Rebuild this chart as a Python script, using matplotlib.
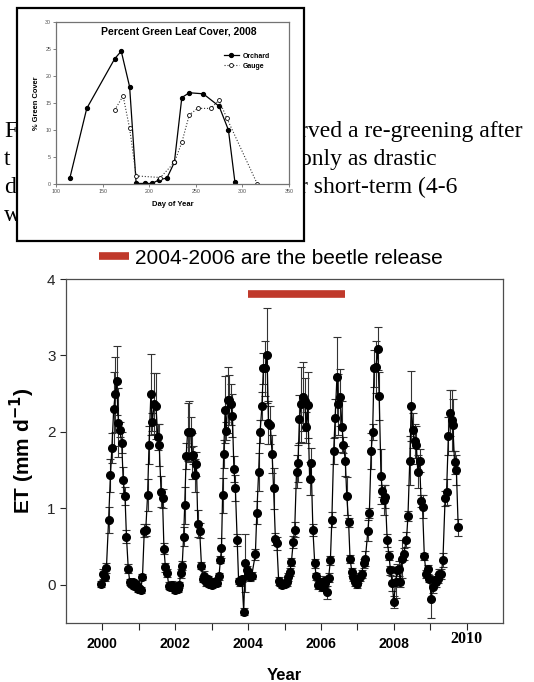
import matplotlib
matplotlib.use('Agg')
import matplotlib.pyplot as plt
from matplotlib.lines import Line2D
from matplotlib.patches import Rectangle

plt.rcParams['font.family'] = ['Liberation Sans', 'DejaVu Sans']

# inset: percent green leaf cover, 2008
orchard_doy = [115, 133, 163, 170, 179, 186, 195, 203, 211, 219, 227, 235, 243, 258, 275, 285, 292]
orchard_cover = [1.2, 14.0, 23.2, 24.6, 18.0, 0.1, 0.1, 0.1, 0.8, 1.1, 4.0, 16.0, 16.9, 16.7, 14.4, 10.0, 0.3]
gauge_doy = [163, 172, 179, 186, 212, 227, 235, 243, 252, 266, 275, 283, 316]
gauge_cover = [13.7, 16.3, 10.3, 1.5, 1.2, 4.0, 7.7, 12.8, 14.0, 14.0, 15.5, 12.3, 0.0]

# main chart: ET time series (decimal year, mm/d, error)
et_year = [
    1999.97, 2000.02, 2000.06, 2000.11, 2000.17, 2000.22, 2000.26, 2000.31, 2000.35, 2000.39,
    2000.44, 2000.48, 2000.53, 2000.57, 2000.62, 2000.66, 2000.71, 2000.75, 2000.79, 2000.83,
    2000.88, 2000.92, 2000.97, 2001.01, 2001.05, 2001.10,
    2001.15, 2001.19, 2001.24, 2001.28, 2001.33, 2001.37, 2001.42, 2001.47, 2001.52, 2001.56,
    2001.61, 2001.65, 2001.69, 2001.73, 2001.78, 2001.82, 2001.86, 2001.91, 2001.95, 2001.99,
    2002.03, 2002.07, 2002.11, 2002.15, 2002.19,
    2002.23, 2002.26, 2002.30, 2002.34, 2002.38, 2002.42, 2002.46, 2002.50, 2002.54, 2002.58,
    2002.62, 2002.67, 2002.72, 2002.76, 2002.80, 2002.85, 2002.89, 2002.93, 2002.98, 2003.02,
    2003.07, 2003.11, 2003.15, 2003.20,
    2003.24, 2003.27, 2003.30, 2003.33, 2003.37, 2003.40, 2003.44, 2003.48, 2003.52, 2003.57,
    2003.61, 2003.65, 2003.70, 2003.74, 2003.79, 2003.83, 2003.88, 2003.92, 2003.97, 2004.01,
    2004.06, 2004.10,
    2004.20, 2004.24, 2004.29, 2004.33, 2004.38, 2004.42, 2004.47, 2004.52, 2004.56, 2004.61,
    2004.66, 2004.70, 2004.75, 2004.79, 2004.84, 2004.88, 2004.93, 2004.97, 2005.01, 2005.06,
    2005.10, 2005.15,
    2005.19, 2005.24, 2005.28, 2005.33, 2005.37, 2005.41, 2005.46, 2005.50, 2005.55, 2005.60,
    2005.64, 2005.69, 2005.73, 2005.78, 2005.83, 2005.87, 2005.92, 2005.96, 2006.00, 2006.04,
    2006.08, 2006.12, 2006.17, 2006.21,
    2006.26, 2006.30, 2006.35, 2006.39, 2006.44, 2006.48, 2006.53, 2006.58, 2006.62, 2006.67,
    2006.71, 2006.76, 2006.80, 2006.85, 2006.89, 2006.94, 2006.98, 2007.03, 2007.07, 2007.12,
    2007.17, 2007.22,
    2007.29, 2007.33, 2007.38, 2007.42, 2007.46, 2007.51, 2007.56, 2007.60, 2007.65, 2007.69,
    2007.73, 2007.77, 2007.82, 2007.87, 2007.91, 2007.96, 2008.00, 2008.05, 2008.09, 2008.14,
    2008.18, 2008.23, 2008.27,
    2008.35, 2008.39, 2008.44, 2008.48, 2008.53, 2008.57, 2008.62, 2008.66, 2008.71, 2008.75,
    2008.79, 2008.84, 2008.89, 2008.93, 2008.98, 2009.03, 2009.07, 2009.12, 2009.16, 2009.21,
    2009.25, 2009.30, 2009.35,
    2009.41, 2009.45, 2009.50, 2009.55, 2009.59, 2009.62, 2009.67, 2009.72, 2009.77,
]
et_value = [
    0.01, 0.14, 0.10, 0.22, 0.85, 1.43, 1.79, 2.30, 2.49, 2.67,
    2.12, 2.03, 1.86, 1.37, 1.16, 0.63, 0.21, 0.04, 0.01, 0.03,
    -0.02, 0.01, -0.05, -0.04, -0.07, 0.10,
    0.71, 0.72, 1.17, 1.83, 2.49, 2.13, 2.37, 2.34, 1.93, 1.83,
    1.22, 1.13, 0.47, 0.23, 0.15, -0.01, -0.03, 0.00, -0.03, -0.07,
    -0.03, -0.05, 0.00, 0.15, 0.25,
    0.63, 1.04, 1.68, 2.00, 2.00, 2.00, 1.69, 1.70, 1.43, 1.58,
    0.80, 0.71, 0.25, 0.08, 0.12, 0.03, 0.07, 0.01, 0.02, 0.00,
    0.03, 0.05, 0.02, 0.11,
    0.33, 0.48, 1.17, 1.71, 2.29, 2.01, 2.42, 2.42, 2.36, 2.21,
    1.52, 1.27, 0.59, 0.05, 0.03, 0.08, -0.35, 0.28, 0.19, 0.15,
    0.10, 0.12,
    0.40, 0.94, 1.48, 2.00, 2.34, 2.83, 2.83, 3.00, 2.12, 2.09,
    1.71, 1.26, 0.60, 0.54, 0.05, 0.02, 0.00, 0.01, 0.01, 0.03,
    0.10, 0.17,
    0.30, 0.56, 0.72, 1.48, 1.59, 2.17, 2.36, 2.46, 2.41, 2.06,
    2.35, 1.39, 1.59, 0.72, 0.28, 0.11, 0.00, 0.01, 0.04, -0.03,
    0.05, 0.02, -0.10, 0.09,
    0.32, 0.85, 1.75, 2.18, 2.72, 2.36, 2.45, 2.07, 1.83, 1.62,
    1.16, 0.82, 0.34, 0.17, 0.10, 0.03, 0.01, 0.07, 0.10, 0.14,
    0.28, 0.34,
    0.71, 0.94, 1.75, 2.00, 2.83, 2.85, 3.09, 2.47, 1.42, 1.23,
    1.11, 1.15, 0.58, 0.38, 0.19, 0.02, -0.23, 0.03, 0.19, 0.21,
    0.03, 0.34, 0.40,
    0.59, 0.90, 1.62, 2.34, 2.02, 1.88, 1.83, 1.48, 1.62, 1.10,
    1.02, 0.37, 0.14, 0.20, 0.08, -0.18, -0.03, 0.06, 0.03, 0.08,
    0.14, 0.14, 0.32,
    1.13, 1.21, 1.95, 2.25, 2.15, 2.09, 1.60, 1.50, 0.75,
]
et_err = [
    0.04, 0.06, 0.05, 0.06, 0.17, 0.21, 0.20, 0.48, 0.49, 0.45,
    0.45, 0.10, 0.14, 0.17, 0.12, 0.09, 0.06, 0.04, 0.03, 0.04,
    0.04, 0.04, 0.04, 0.03, 0.04, 0.04,
    0.09, 0.08, 0.21, 0.25, 0.53, 0.12, 0.40, 0.43, 0.17, 0.27,
    0.20, 0.12, 0.07, 0.06, 0.05, 0.05, 0.04, 0.05, 0.04, 0.04,
    0.04, 0.04, 0.04, 0.06, 0.06,
    0.12, 0.24, 0.17, 0.38, 0.40, 0.20, 0.30, 0.12, 0.22, 0.16,
    0.18, 0.10, 0.05, 0.04, 0.06, 0.04, 0.05, 0.04, 0.04, 0.04,
    0.04, 0.04, 0.04, 0.05,
    0.05, 0.13, 0.23, 0.18, 0.44, 0.12, 0.43, 0.33, 0.27, 0.28,
    0.17, 0.17, 0.08, 0.04, 0.04, 0.04, 0.05, 0.38, 0.06, 0.05,
    0.05, 0.05,
    0.07, 0.15, 0.25, 0.15, 0.18, 0.20, 0.36, 0.62, 0.28, 0.25,
    0.25, 0.27, 0.08, 0.08, 0.05, 0.04, 0.04, 0.04, 0.04, 0.04,
    0.05, 0.05,
    0.05, 0.08, 0.10, 0.22, 0.24, 0.31, 0.49, 0.45, 0.30, 0.20,
    0.43, 0.22, 0.20, 0.08, 0.06, 0.05, 0.05, 0.05, 0.05, 0.05,
    0.06, 0.05, 0.08, 0.06,
    0.06, 0.10, 0.17, 0.25, 0.52, 0.40, 0.37, 0.33, 0.10, 0.20,
    0.25, 0.06, 0.05, 0.05, 0.05, 0.05, 0.05, 0.05, 0.05, 0.05,
    0.06, 0.10,
    0.14, 0.06, 0.24, 0.10, 0.24, 0.34, 0.28, 0.31, 0.36, 0.08,
    0.20, 0.15, 0.08, 0.06, 0.06, 0.10, 0.08, 0.20, 0.08, 0.10,
    0.06, 0.25, 0.08,
    0.10, 0.07, 0.32, 0.46, 0.23, 0.22, 0.25, 0.22, 0.15, 0.08,
    0.15, 0.05, 0.05, 0.06, 0.05, 0.25, 0.08, 0.06, 0.06, 0.06,
    0.06, 0.06, 0.09,
    0.10, 0.17, 0.25, 0.30, 0.40, 0.34, 0.15, 0.20, 0.11,
]

beetle_span = [2004.0, 2006.65]
beetle_level = 3.8
beetle_label = '2004-2006 are the beetle release'
year_ticks = list(range(2000, 2011))
year_labels = [str(y) if y % 2 == 0 and y < 2010 else '' for y in year_ticks]
last_year_label = '2010'

# paragraph text peeking out from behind the inset
text_left = ['F', 't', 'd', 'w']
text_right = ['rved a re-greening after', 'only as drastic', 'r short-term (4-6', '']

W, H = 534, 682
red = '#c0392b'

fig = plt.figure(figsize=(W / 100, H / 100), dpi=100)

def fx(px):
    return px / W

def fy(py):
    return 1 - py / H

baselines = [137, 165, 193, 221]
for left, right, b in zip(text_left, text_right, baselines):
    fig.text(fx(4), fy(b), left, family='Liberation Serif', fontsize=17, va='baseline', zorder=1)
    fig.text(fx(300), fy(b), right, family='Liberation Serif', fontsize=17, va='baseline', zorder=1)

frame = Rectangle((fx(17), fy(241)), fx(304) - fx(17), fy(8) - fy(241), transform=fig.transFigure,
                  facecolor='white', edgecolor='black', lw=1.6, zorder=2)
fig.add_artist(frame)

# inset chart
ax2 = fig.add_axes([fx(56), fy(184), fx(289) - fx(56), fy(22) - fy(184)], zorder=3)
ax2.plot(orchard_doy, orchard_cover, '-o', color='black', lw=0.9, ms=2.8, label='Orchard')
ax2.plot(gauge_doy, gauge_cover, ':o', color='0.2', lw=0.8, ms=2.8, mfc='white', mec='black',
         mew=0.6, label='Gauge')
ax2.set_xlim(100, 350)
ax2.set_ylim(0, 30)
ax2.set_xticks([100, 150, 200, 250, 300, 350])
ax2.set_yticks([0, 5, 10, 15, 20, 25, 30])
ax2.tick_params(labelsize=3.8, length=2, width=0.5, pad=1.5, colors='0.3')
for s in ax2.spines.values():
    s.set_color('0.45')
    s.set_linewidth(0.9)
ax2.set_xlabel('Day of Year', fontsize=5.5, fontweight='bold', labelpad=5)
ax2.set_ylabel('% Green Cover', fontsize=5.4, fontweight='bold', labelpad=4)
ax2.text(0.526, 0.944, 'Percent Green Leaf Cover, 2008', transform=ax2.transAxes,
         ha='center', va='center', fontsize=7.5, fontweight='bold')
ax2.legend(loc='upper left', bbox_to_anchor=(0.72, 0.81), frameon=False,
           prop={'weight': 'bold', 'size': 5}, handlelength=2.2, handletextpad=0.5,
           labelspacing=0.4, borderpad=0, borderaxespad=0)

# main ET chart
ax = fig.add_axes([fx(66), fy(623), fx(503) - fx(66), fy(279) - fy(623)], zorder=0)
ax.errorbar(et_year, et_value, yerr=et_err, fmt='-o', color='black', lw=0.9, ms=5.5,
            ecolor='0.2', elinewidth=0.8, capsize=3, capthick=0.8)
ax.plot(beetle_span, [beetle_level, beetle_level], color=red, lw=5.5, solid_capstyle='butt')
ax.set_xlim(1999, 2011)
ax.set_ylim(-0.5, 4)
ax.set_yticks([0, 1, 2, 3, 4])
ax.set_xticks(year_ticks, year_labels, fontweight='bold', family='Liberation Sans')
ax.tick_params(axis='y', labelsize=11, length=4, width=0.8, colors='0.15')
ax.tick_params(axis='x', labelsize=10, length=5, width=0.8, color='0.15', labelcolor='black', pad=5)
# the 2010 label is set in a serif face in the original
ax.text(2010, -0.047, last_year_label, transform=ax.get_xaxis_transform(), ha='center', va='center',
        family='Liberation Serif', fontweight='bold', fontsize=11.5)
for s in ax.spines.values():
    s.set_color('0.3')
    s.set_linewidth(0.9)
ax.set_ylabel('ET (mm d$^{\\mathbf{-1}}$)', fontsize=15, fontweight='bold')
ax.yaxis.set_label_coords(-0.066, 0.5)
ax.set_xlabel('Year', fontsize=12, fontweight='bold')
ax.xaxis.set_label_coords(0.5, -0.132)

fig.legend(handles=[Line2D([0], [0], color=red, lw=5.5, solid_capstyle='butt')], labels=[beetle_label],
           loc='center', bbox_to_anchor=(fx(271), fy(258)), frameon=False, fontsize=15,
           handlelength=1.45, handletextpad=0.3)

fig.savefig('out.png', dpi=100)
